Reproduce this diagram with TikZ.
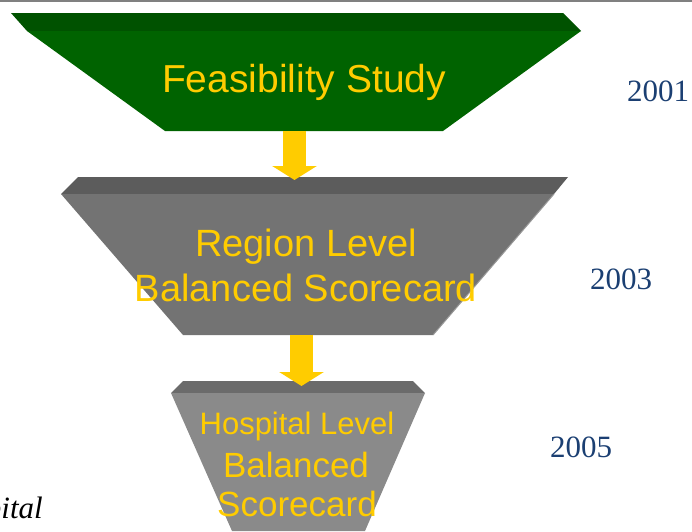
\documentclass[tikz,border=0pt]{standalone}
\usepackage{fontspec}
\usepackage{tikz}
\usetikzlibrary{positioning,arrows.meta}
\newfontfamily\labelfont{Liberation Sans}
\newfontfamily\yearfont{Liberation Serif}
\definecolor{stepyellow}{HTML}{FFCC00}
\definecolor{yearblue}{HTML}{1B3F72}

\begin{document}
\begin{tikzpicture}[x=1pt, y=-1pt,
    title/.style={text=stepyellow, font=\labelfont, align=center, inner sep=0pt},
    year/.style={text=yearblue, font=\yearfont\fontsize{31}{31}\selectfont, inner sep=0pt},
    flow/.style={stepyellow, line width=23pt, -{Triangle[width=44pt, length=14pt]}}]
                \useasboundingbox (0,0) rectangle (692,531);
                \clip (0,0) rectangle (692,531);
                \fill [gray] (0,0) rectangle (692,1.5);
                % feasibility funnel
                \fill [green!32!black] (11,13) -- (563,13) -- (581,31) -- (27,31) -- cycle;
                \fill [green!39!black] (27,31) -- (581,31) -- (443,131) -- (165,131) -- cycle;
                % region funnel
                \fill [black!64] (78,177) -- (568,177) -- (554,194) -- (61,194) -- cycle;
                \fill [black!55] (61,194) -- (554,194) -- (433,335) -- (183,335) -- cycle;
                \draw [black!40, line width=1pt] (554,194) -- (433,335);
                % hospital funnel
                \fill [black!58] (183,381) -- (413,381) -- (425,393) -- (171,393) -- cycle;
                \fill [black!46] (171,393) -- (425,393) -- (365,531) -- (232,531) -- cycle;
                \coordinate (feasBot) at (294.5,131);
                \coordinate (regionTop) at (294.5,180);
                \coordinate (regionBot) at (301.5,335);
                \coordinate (hospTop) at (301.5,386);
                \draw [flow] (feasBot) -- (regionTop);
                \draw [flow] (regionBot) -- (hospTop);
                \node [title, font=\labelfont\fontsize{39}{45}\selectfont] (feas) at (304,82) {Feasibility Study};
                \node [title, font=\labelfont\fontsize{38}{45}\selectfont] (region) at (306,265) {Region Level\\Balanced Scorecard};
                \node [title, anchor=base, font=\labelfont\fontsize{31}{31}\selectfont] (hosp1) at (297,434) {Hospital Level};
                \node [title, anchor=base, font=\labelfont\fontsize{35}{35}\selectfont] (hosp2) at (296,477) {Balanced};
                \node [title, anchor=base, font=\labelfont\fontsize{35}{35}\selectfont] (hosp3) at (297,516) {Scorecard};
                \node [year] (y1) at (658,91) {2001};
                \node [year] (y2) at (621,279) {2003};
                \node [year] (y3) at (581,447) {2005};
                \node [anchor=base east, inner sep=0pt, font=\yearfont\itshape\fontsize{31}{31}\selectfont] (side) at (43,518) {pital};
            \end{tikzpicture}
\end{document}
